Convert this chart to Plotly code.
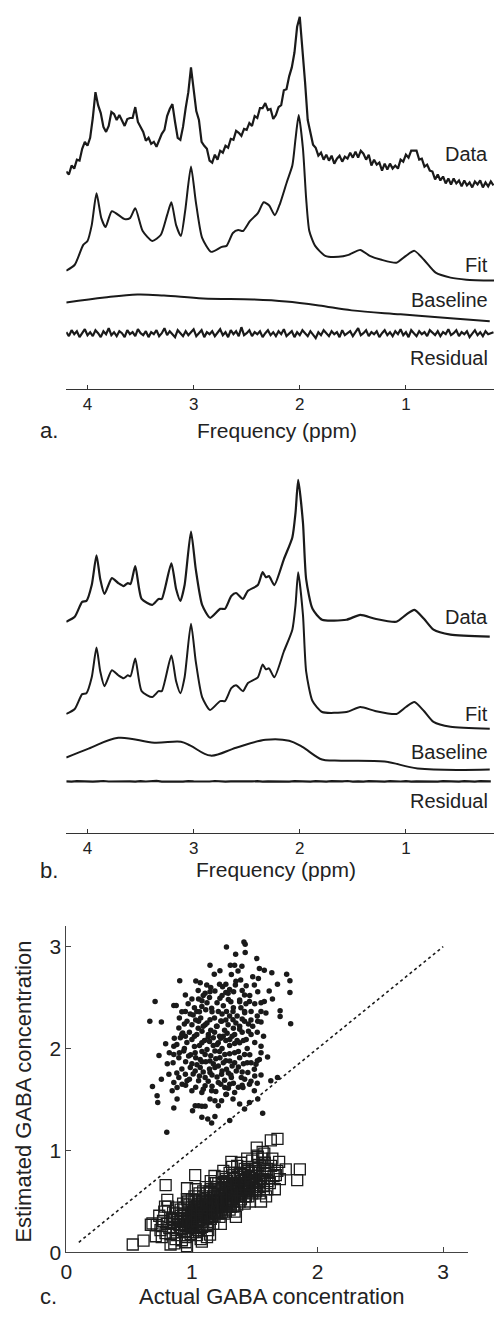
import plotly.graph_objects as go

# ---------------- Panel a ----------------
ppm_grid = [round(4.2 - 0.025 * i, 3) for i in range(162)]

data_a = [21.9,21.6,22.5,22.2,23.1,23.0,24.2,24.9,24.5,25.3,
          27.3,29.9,28.6,27.8,26.4,25.9,26.5,27.9,27.7,27.1,
          27.6,27.0,26.5,27.2,27.3,27.3,28.4,26.9,26.4,25.9,
          25.0,25.3,24.7,24.9,24.4,25.0,25.7,26.1,27.5,28.2,
          28.7,26.9,25.3,25.1,26.4,28.3,29.9,32.4,30.3,28.0,
          27.1,24.9,24.5,24.2,23.0,22.8,23.6,23.1,24.0,23.8,
          24.5,24.3,25.2,25.1,26.0,25.8,25.5,26.2,26.1,26.8,
          26.5,27.5,27.3,28.3,28.3,28.8,28.1,28.2,27.2,27.6,
          28.4,28.6,30.1,30.2,31.5,32.4,33.9,36.5,37.5,34.4,
          30.9,27.1,25.7,24.6,24.3,23.5,23.8,23.1,23.6,23.0,
          23.5,22.7,23.2,23.5,22.9,23.4,23.2,23.8,23.3,23.9,
          23.3,24.0,23.7,23.1,23.6,22.5,23.1,22.6,22.8,22.0,
          22.7,22.1,22.7,22.2,22.5,22.2,23.1,22.9,23.6,23.3,
          24.0,24.0,24.0,23.1,23.2,22.4,22.6,22.0,21.9,21.1,
          21.6,21.0,21.4,20.7,21.2,20.6,21.2,20.7,21.0,20.4,
          21.0,20.5,20.8,20.3,20.9,20.6,21.0,20.3,20.8,20.4,
          20.9,20.5]

ppm_fit_a = [4.2,4.12,4.04,4.0,3.96,3.915,3.87,3.83,3.77,3.65,3.60,3.55,3.48,3.39,3.31,
             3.25,3.21,3.165,3.12,3.08,3.025,2.98,2.92,2.835,2.735,2.69,2.63,2.58,2.535,
             2.47,2.395,2.34,2.29,2.235,2.185,2.12,2.07,2.04,2.01,1.97,1.94,1.91,1.855,
             1.76,1.635,1.54,1.43,1.34,1.23,1.09,1.0,0.92,0.83,0.72,0.58,0.43,0.17]
fit_a = [11.9,12.5,14.5,14.9,16.5,19.7,17.2,16.3,17.9,17.1,17.2,18.2,15.9,14.9,15.5,
         17.5,18.8,16.5,15.4,17.9,22.4,18.9,15.2,13.8,14.3,14.4,15.7,16.0,15.9,
         16.9,17.7,18.8,18.5,17.5,18.7,20.9,22.5,25.2,27.6,24.2,19.2,15.9,14.4,
         13.4,13.3,13.5,14.0,13.4,13.0,12.7,13.4,13.9,13.0,11.7,11.2,11.0,10.9]

ppm_base_a = [4.2,3.84,3.53,3.28,2.91,2.44,2.13,1.82,1.51,1.05,0.58,0.21]
base_a = [8.7,9.2,9.5,9.4,9.1,9.0,8.8,8.4,7.9,7.5,7.1,6.8]

resid_a = [5.7,5.3,5.9,5.5,5.8,5.2,5.6,6.0,5.4,5.7,5.3,5.9,5.6,5.2,5.8,5.5,6.1,5.4,5.7,5.3,
           5.8,5.6,5.2,5.9,5.5,5.7,5.3,6.0,5.6,5.4,5.8,5.2,5.7,5.5,5.9,5.3,5.6,6.1,5.4,5.8,
           5.5,5.2,5.9,5.6,5.3,5.8,5.4,5.7,6.0,5.3,5.6,5.9,5.2,5.7,5.5,5.8,5.3,5.6,6.0,5.4,
           5.7,5.2,5.9,5.5,5.8,5.3,6.2,5.4,5.6,5.9,5.3,5.7,5.5,5.8,5.2,5.6,5.9,5.4,5.7,5.3,
           5.8,5.5,6.0,5.3,5.6,5.8,5.2,5.7,5.4,5.9,5.6,5.3,5.8,5.5,5.1,5.7,5.4,5.9,5.6,5.3,
           5.8,5.5,5.7,5.2,5.9,5.4,5.6,5.8,5.3,5.7,6.1,5.4,5.6,5.9,5.3,5.7,5.5,5.8,5.2,5.6,
           5.9,5.4,5.7,5.3,5.8,5.5,6.0,5.4,5.7,5.2,5.9,5.6,5.3,5.8,5.5,5.7,5.3,5.9,5.6,5.4,
           5.8,5.3,5.7,5.5,6.0,5.4,5.6,5.9,5.3,5.7,5.5,5.8,5.2,5.6,5.9,5.4,5.7,5.3,5.8,5.5,
           5.6,5.7]

# ---------------- Panel b ----------------
ppm_b = [4.2,4.12,4.05,4.01,3.96,3.915,3.88,3.84,3.77,3.71,3.66,3.62,3.595,3.55,3.49,
         3.39,3.33,3.30,3.21,3.165,3.125,3.085,3.025,2.98,2.92,2.845,2.75,2.705,2.645,
         2.60,2.535,2.49,2.395,2.35,2.32,2.29,2.24,2.15,2.07,2.04,2.015,1.97,1.94,1.88,
         1.79,1.56,1.43,1.29,1.09,1.0,0.92,0.83,0.74,0.58,0.21]
data_b = [21.3,21.8,23.3,23.4,25.0,28.0,25.6,24.1,25.7,25.2,24.9,25.2,25.1,26.9,23.6,
          23.0,23.6,23.6,27.2,24.6,23.4,25.0,30.4,26.6,23.0,21.7,22.6,22.6,23.9,
          24.2,23.6,24.4,25.0,26.3,25.8,25.9,25.0,27.6,29.8,32.3,35.6,31.3,25.6,22.6,
          21.5,21.5,22.0,21.6,21.3,22.0,22.5,21.6,20.5,20.0,19.8]
fit_b = [12.0,12.5,14.0,14.1,15.7,18.7,16.3,14.8,16.4,15.9,15.6,15.9,15.8,17.6,14.3,
         13.7,14.3,14.3,17.9,15.3,14.1,15.7,21.1,17.3,13.7,12.4,13.3,13.3,14.6,
         14.9,14.3,15.1,15.7,17.0,16.5,16.6,15.7,18.3,20.5,23.0,26.3,22.0,16.3,13.3,
         12.2,12.2,12.7,12.3,12.0,12.7,13.2,12.3,11.2,10.7,10.5]

ppm_base_b = [4.2,3.99,3.71,3.37,3.12,3.03,2.84,2.60,2.32,2.10,1.98,1.79,1.67,1.20,0.89,0.21]
base_b = [7.6,8.5,9.6,9.1,9.2,8.8,7.8,8.6,9.4,9.3,8.7,7.4,7.3,7.2,6.5,6.4]

ppm_coarse = [round(4.2 - 0.05 * i, 2) for i in range(81)]
resid_b = [5.21,5.18,5.23,5.19,5.22,5.17,5.20,5.24,5.19,5.21,5.18,5.22,5.20,5.17,5.23,5.19,5.21,5.25,5.18,5.20,
           5.22,5.19,5.17,5.23,5.20,5.18,5.22,5.19,5.24,5.20,5.17,5.21,5.19,5.23,5.18,5.20,5.22,5.17,5.21,5.19,
           5.24,5.20,5.18,5.22,5.19,5.21,5.17,5.23,5.20,5.18,5.22,5.19,5.21,5.24,5.18,5.20,5.17,5.22,5.19,5.21,
           5.18,5.23,5.20,5.19,5.22,5.17,5.21,5.19,5.23,5.20,5.18,5.22,5.19,5.21,5.17,5.23,5.20,5.18,5.22,5.19,
           5.21]

trace_labels = ["Data", "Fit", "Baseline", "Residual"]
label_pos_a = [23.7, 12.5, 8.9, 3.1]
label_pos_b = [21.8, 12.0, 8.2, 3.2]
freq_ticks = [4, 3, 2, 1]

# ---------------- Panel c ----------------
dots = [
    (1.275,2.996),(1.414,3.045),(1.424,3.022),(1.348,2.925),(1.424,2.941),(1.516,2.883),
    (1.144,2.818),(1.306,2.818),(1.340,2.818),(1.398,2.808),(1.178,2.730),(1.223,2.763),
    (1.314,2.727),(1.367,2.760),(1.484,2.704),(1.537,2.785),(1.576,2.769),(1.636,2.743),
    (1.754,2.730),(1.780,2.665),(1.529,2.688),(0.903,2.665),(1.031,2.662),(1.066,2.646),
    (1.118,2.623),(1.244,2.607),(1.270,2.630),(1.388,2.672),(1.346,2.623),(1.432,2.617),
    (1.497,2.623),(1.524,2.558),(1.681,2.630),(1.615,2.565),(1.780,2.549),(0.707,2.461),
    (0.856,2.422),(0.875,2.422),(0.948,2.526),(1.000,2.487),(1.053,2.487),(1.105,2.542),
    (1.144,2.558),(1.183,2.565),(1.223,2.494),(1.288,2.542),(1.332,2.558),(1.380,2.477),
    (1.419,2.526),(1.458,2.461),(1.576,2.461),(1.641,2.487),(1.702,2.371),(1.702,2.315),
    (1.786,2.244),(0.665,2.267),(0.757,2.260),(0.948,2.364),(0.987,2.338),(1.039,2.364),
    (1.079,2.412),(1.157,2.396),(1.210,2.364),(1.275,2.364),(1.327,2.364),(1.419,2.364),
    (1.471,2.364),(1.550,2.364),(1.589,2.348),(0.896,2.202),(0.927,2.153),(0.961,2.267),
    (1.000,2.234),(1.053,2.267),(1.105,2.234),(1.144,2.283),(1.196,2.218),(1.236,2.267),
    (1.288,2.234),(1.327,2.283),(1.380,2.218),(1.419,2.267),(1.484,2.218),(1.524,2.267),
    (0.791,2.046),(0.856,2.023),(0.908,2.105),(0.948,2.121),(1.000,2.088),(1.039,2.137),
    (1.079,2.056),(1.131,2.137),(1.170,2.105),(1.210,2.056),(1.249,2.121),(1.301,2.088),
    (1.340,2.137),(1.380,2.056),(1.432,2.088),(1.471,2.137),(1.550,2.023),(0.738,1.933),
    (0.804,1.851),(0.856,1.942),(0.896,1.910),(0.935,1.975),(0.974,1.926),(1.026,1.958),
    (1.066,1.893),(1.105,1.942),(1.144,1.877),(1.183,1.975),(1.223,1.910),(1.262,1.942),
    (1.301,1.877),(1.340,1.958),(1.380,1.910),(1.419,1.942),(1.471,1.861),(1.510,1.845),
    (1.537,1.893),(1.602,1.916),(0.686,1.628),(0.757,1.699),(0.817,1.748),(0.856,1.667),
    (0.896,1.715),(0.948,1.748),(0.987,1.813),(1.026,1.780),(1.066,1.813),(1.105,1.715),
    (1.144,1.764),(1.183,1.813),(1.236,1.748),(1.275,1.797),(1.314,1.715),(1.353,1.780),
    (1.393,1.715),(1.445,1.764),(1.497,1.797),(1.550,1.741),(1.628,1.683),(1.681,1.715),
    (0.843,1.586),(0.882,1.618),(0.922,1.650),(0.961,1.683),(1.000,1.586),(1.053,1.683),
    (1.105,1.634),(1.157,1.586),(1.210,1.667),(1.262,1.618),(1.301,1.650),(1.340,1.569),
    (1.406,1.618),(1.458,1.650),(1.497,1.586),(1.079,1.569),(1.380,1.456),(1.524,1.505),
    (0.723,1.537),(0.728,1.472),(0.856,1.417),(0.882,1.505),(1.005,1.391),(1.026,1.440),
    (1.053,1.440),(1.079,1.433),(1.105,1.433),(1.144,1.505),(1.183,1.488),(1.210,1.440),
    (1.236,1.488),(1.275,1.553),(1.327,1.505),(1.079,1.326),(1.126,1.310),(1.157,1.271),
    (1.183,1.333),(1.301,1.294),(1.419,1.407),(1.458,1.472),(1.563,1.365),(0.800,1.180),
    (1.02,2.40),(1.12,2.45),(1.18,2.30),(1.25,2.42),(1.31,2.46),(1.36,2.32),(1.43,2.44),
    (1.07,2.30),(1.15,2.18),(1.22,2.12),(1.28,2.15),(1.33,2.20),(1.40,2.16),(1.47,2.28),
    (0.98,2.16),(1.05,2.20),(1.10,2.08),(1.17,2.03),(1.24,2.00),(1.30,2.03),(1.36,2.08),
    (1.44,2.00),(1.02,2.02),(0.94,2.00),(1.12,1.99),(1.19,1.90),(1.27,1.88),(1.34,1.86),
    (1.41,1.85),(1.08,1.87),(1.00,1.85),(0.92,1.80),(1.14,1.80),(1.21,1.83),(1.29,1.76),
    (1.37,1.82),(1.06,1.73),(1.13,1.68),(1.20,1.72),(1.26,1.69),(1.33,1.66),(1.42,1.70),
    (0.98,1.70),(1.09,1.60),(1.19,1.58),(1.27,1.55),(1.37,1.62),(1.47,1.68),(1.23,2.27),
    (1.16,2.36),(1.39,2.40),(1.09,2.52),(1.27,2.55),(1.22,2.63),(1.46,2.52),(1.52,2.16),
    (1.55,2.45),(0.90,2.30),(0.86,2.10),(0.82,1.96),
    (1.05,2.57),(1.15,2.60),(1.30,2.58),(1.40,2.57),(1.35,2.66),
    (0.97,2.44),(1.08,2.47),(1.20,2.45),(1.29,2.48),(1.38,2.46),(1.50,2.44),(1.14,2.50),(1.24,2.52),
    (0.92,2.36),(1.01,2.33),(1.11,2.38),(1.24,2.34),(1.33,2.40),(1.42,2.35),(1.52,2.32),(1.06,2.36),(1.30,2.32),
    (0.94,2.24),(1.03,2.28),(1.12,2.25),(1.20,2.22),(1.27,2.28),(1.35,2.25),(1.45,2.24),(1.55,2.26),(1.09,2.22),(1.40,2.29),
    (0.92,2.14),(1.02,2.12),(1.08,2.17),(1.18,2.16),(1.26,2.18),(1.32,2.12),(1.45,2.17),(1.57,2.12),(1.13,2.11),(1.38,2.19),
    (0.88,2.04),(0.96,2.06),(1.06,2.03),(1.14,2.07),(1.20,2.04),(1.27,2.08),(1.34,2.05),(1.41,2.08),(1.50,2.06),(1.23,2.10),
    (0.90,1.96),(0.99,1.94),(1.08,1.97),(1.15,1.93),(1.22,1.97),(1.30,1.95),(1.37,1.97),(1.46,1.94),(1.55,1.96),(1.03,1.91),
    (0.85,1.86),(0.95,1.87),(1.04,1.84),(1.11,1.87),(1.17,1.85),(1.25,1.86),(1.32,1.83),(1.44,1.86),(1.52,1.88),
    (0.88,1.76),(1.01,1.75),(1.09,1.77),(1.16,1.74),(1.24,1.78),(1.31,1.74),(1.40,1.77),(1.50,1.73),
    (0.95,1.64),(1.03,1.62),(1.16,1.63),(1.23,1.65),(1.29,1.61),(1.40,1.64),(1.52,1.66),
]
squares = [
    (0.529,0.078),(0.615,0.117),(0.712,0.159),(0.830,0.078),(0.961,0.061),(1.079,0.107),
    (1.144,0.175),(0.791,0.661),(0.673,0.272),(0.686,0.285),(0.786,0.450),(0.804,0.515),
    (0.961,0.630),(1.026,0.759),(1.314,0.888),(1.524,0.937),(1.563,0.986),(1.628,1.099),
    (1.681,1.115),(1.747,0.814),(1.859,0.814),(1.838,0.710),(1.694,0.888),(1.668,0.759),
    (1.516,1.028),(1.576,0.970),
    (0.72,0.27),(0.75,0.22),(0.77,0.31),(0.79,0.19),(0.74,0.36),(0.78,0.40),(0.80,0.28),(0.76,0.15),
    (0.82,0.24),(0.84,0.33),(0.83,0.18),(0.86,0.28),(0.85,0.39),(0.88,0.22),(0.87,0.13),(0.89,0.34),
    (0.81,0.45),(0.88,0.44),(0.86,0.09),(0.90,0.27),
    (0.91,0.31),(0.92,0.20),(0.93,0.38),(0.94,0.27),(0.95,0.15),(0.96,0.33),(0.97,0.42),(0.98,0.24),
    (0.99,0.36),(0.93,0.48),(0.96,0.52),(0.95,0.10),(0.99,0.18),(1.00,0.30),(0.92,0.12),(0.98,0.47),
    (1.01,0.40),(1.02,0.27),(1.03,0.35),(1.04,0.46),(1.05,0.22),(1.06,0.38),(1.07,0.30),(1.08,0.50),
    (1.09,0.42),(1.02,0.55),(1.04,0.17),(1.06,0.58),(1.08,0.25),(1.10,0.35),(1.03,0.62),(1.07,0.13),
    (1.09,0.60),(1.01,0.20),(1.05,0.48),(1.10,0.46),
    (1.11,0.40),(1.12,0.52),(1.13,0.30),(1.14,0.45),(1.15,0.58),(1.16,0.36),(1.17,0.49),(1.18,0.62),
    (1.19,0.41),(1.20,0.54),(1.11,0.64),(1.13,0.22),(1.15,0.70),(1.17,0.28),(1.19,0.68),(1.12,0.34),
    (1.14,0.60),(1.16,0.47),(1.18,0.35),(1.20,0.44),(1.12,0.15),(1.18,0.75),
    (1.21,0.50),(1.22,0.60),(1.23,0.42),(1.24,0.55),(1.25,0.66),(1.26,0.48),(1.27,0.58),(1.28,0.70),
    (1.29,0.52),(1.30,0.62),(1.22,0.35),(1.24,0.74),(1.26,0.38),(1.28,0.45),(1.30,0.78),(1.21,0.68),
    (1.23,0.28),(1.25,0.80),(1.27,0.40),(1.29,0.63),(1.24,0.47),(1.26,0.57),
    (1.31,0.55),(1.32,0.66),(1.33,0.50),(1.34,0.72),(1.35,0.60),(1.36,0.47),(1.37,0.68),(1.38,0.78),
    (1.39,0.58),(1.40,0.70),(1.32,0.84),(1.34,0.40),(1.36,0.85),(1.38,0.50),(1.40,0.62),(1.31,0.45),
    (1.33,0.76),(1.35,0.35),(1.37,0.57),(1.39,0.88),
    (1.41,0.65),(1.42,0.76),(1.43,0.55),(1.44,0.84),(1.45,0.68),(1.46,0.60),(1.47,0.78),(1.48,0.90),
    (1.49,0.70),(1.50,0.62),(1.42,0.48),(1.44,0.92),(1.46,0.50),(1.48,0.58),(1.50,0.82),(1.43,0.72),
    (1.51,0.75),(1.52,0.66),(1.53,0.86),(1.54,0.58),(1.55,0.72),(1.56,0.92),(1.57,0.65),(1.58,0.80),
    (1.59,0.55),(1.60,0.70),(1.52,0.95),(1.55,0.50),(1.58,0.88),
    (1.61,0.78),(1.62,0.68),(1.63,0.85),(1.65,0.75),(1.66,0.62),(1.64,0.92),(1.68,0.80),(1.70,0.72),
    (0.85,0.25),(0.85,0.32),(0.88,0.30),(0.88,0.38),(0.88,0.17),(0.91,0.24),(0.91,0.36),(0.91,0.42),
    (0.94,0.33),(0.94,0.21),(0.94,0.44),(0.97,0.30),(0.97,0.37),(0.97,0.20),(0.97,0.50),
    (1.00,0.38),(1.00,0.25),(1.00,0.45),(1.00,0.52),(1.03,0.28),(1.03,0.42),(1.03,0.50),(1.03,0.20),
    (1.06,0.45),(1.06,0.32),(1.06,0.26),(1.06,0.52),(1.09,0.36),(1.09,0.50),(1.09,0.30),(1.09,0.55),
    (1.12,0.44),(1.12,0.58),(1.12,0.38),(1.12,0.27),(1.15,0.50),(1.15,0.40),(1.15,0.33),(1.15,0.62),
    (1.18,0.55),(1.18,0.45),(1.18,0.40),(1.18,0.68),(1.21,0.45),(1.21,0.58),(1.21,0.38),(1.21,0.62),
    (1.24,0.50),(1.24,0.62),(1.24,0.40),(1.24,0.67),(1.27,0.52),(1.27,0.64),(1.27,0.46),(1.27,0.72),
    (1.30,0.55),(1.30,0.48),(1.30,0.68),(1.30,0.42),(1.33,0.60),(1.33,0.68),(1.33,0.45),(1.33,0.55),
    (1.36,0.62),(1.36,0.55),(1.36,0.74),(1.36,0.66),(1.39,0.65),(1.39,0.72),(1.39,0.52),(1.39,0.78),
    (1.42,0.60),(1.42,0.70),(1.42,0.82),(1.42,0.55),(1.45,0.62),(1.45,0.74),(1.45,0.80),(1.45,0.55),
    (1.48,0.66),(1.48,0.75),(1.48,0.82),(1.48,0.62),(1.51,0.68),(1.51,0.60),(1.51,0.80),
    (1.54,0.70),(1.54,0.78),(1.54,0.64),(1.57,0.72),(1.57,0.85),(1.60,0.82),(1.60,0.62),
    (0.98,0.34),(1.01,0.32),(1.04,0.39),(1.07,0.43),(1.10,0.39),(1.13,0.47),(1.16,0.42),(1.19,0.51),
    (1.22,0.47),(1.25,0.56),(1.28,0.53),(1.31,0.61),(1.34,0.57),(1.37,0.64),(1.40,0.60),(1.43,0.66),
    (1.46,0.70),(1.49,0.66),(1.02,0.44),(1.05,0.36),(1.08,0.40),(1.11,0.49),(1.14,0.38),(1.17,0.55),
    (1.20,0.40),(1.23,0.52),(1.26,0.62),(1.29,0.47),(1.32,0.58),(1.35,0.67),(1.38,0.56),(1.41,0.72),
    (1.44,0.63),(1.47,0.73),(0.95,0.28),(0.99,0.27),(1.04,0.31),(1.08,0.33),(1.13,0.36),(1.17,0.43),
    (1.22,0.53),(1.27,0.49),(1.32,0.52),(1.37,0.61),(1.42,0.67),(1.46,0.64),
]
identity_line = [0.1, 3.0]
gaba_ticks = [0, 1, 2, 3]

FONT = "Liberation Sans, Arial, Helvetica, sans-serif"
INK = "#1a1a1a"

fig = go.Figure()

def line(x, y, xa, ya, width=2.0, shape="spline", smooth=0.6):
    kw = dict(shape=shape, color=INK, width=width)
    if shape == "spline":
        kw["smoothing"] = smooth
    fig.add_trace(go.Scatter(x=x, y=y, mode="lines", line=kw, xaxis=xa, yaxis=ya,
                             showlegend=False, hoverinfo="skip"))

# panel a
line(ppm_grid, data_a, "x", "y", width=2.2, shape="linear")
line(ppm_fit_a, fit_a, "x", "y", width=2.0)
line(ppm_base_a, base_a, "x", "y", width=2.0, smooth=1.0)
line(ppm_grid, resid_a, "x", "y", width=2.2, shape="linear")
# panel b
line(ppm_b, data_b, "x2", "y2", width=2.2)
line(ppm_b, fit_b, "x2", "y2", width=2.0)
line(ppm_base_b, base_b, "x2", "y2", width=2.0, smooth=1.0)
line(ppm_coarse, resid_b, "x2", "y2", width=2.2, shape="linear")

# panel c
fig.add_trace(go.Scatter(x=[s[0] for s in squares], y=[s[1] for s in squares], mode="markers",
                         marker=dict(symbol="square-open", size=11, color="#1c1c1c",
                                     line=dict(width=1.3, color="#1c1c1c")),
                         xaxis="x3", yaxis="y3", showlegend=False, hoverinfo="skip", cliponaxis=False))
fig.add_trace(go.Scatter(x=[d[0] for d in dots], y=[d[1] for d in dots], mode="markers",
                         marker=dict(symbol="circle", size=5.5, color=INK),
                         xaxis="x3", yaxis="y3", showlegend=False, hoverinfo="skip"))
fig.add_trace(go.Scatter(x=identity_line, y=identity_line, mode="lines",
                         line=dict(color=INK, width=1.6, dash="3px,3px"),
                         xaxis="x3", yaxis="y3", showlegend=False, hoverinfo="skip"))

freq_axis = dict(range=[4.2, 0.17], tickvals=freq_ticks, ticktext=[str(t) for t in freq_ticks],
                 ticks="inside", ticklen=4, tickcolor="#333", showline=True, linecolor="#333",
                 linewidth=1, showgrid=False, zeroline=False,
                 tickfont=dict(family=FONT, size=17, color="#222"), domain=[0.1235, 1.0])
fig.update_layout(
    width=494, height=1318, margin=dict(l=0, r=0, t=0, b=0),
    paper_bgcolor="white", plot_bgcolor="white",
    xaxis=dict(freq_axis, anchor="y"),
    yaxis=dict(domain=[0.7026, 1.0], range=[0, 39.2], visible=False, anchor="x"),
    xaxis2=dict(freq_axis, anchor="y2"),
    yaxis2=dict(domain=[0.3627, 0.6601], range=[0, 39.2], visible=False, anchor="x2"),
    xaxis3=dict(domain=[0.1235, 0.9474], range=[0, 3.2], tickvals=gaba_ticks, anchor="y3",
                ticks="inside", ticklen=5, tickcolor="#444", showline=True, linecolor="#444",
                linewidth=1, showgrid=False, zeroline=False,
                tickfont=dict(family=FONT, size=21, color="#222")),
    yaxis3=dict(domain=[0.04173, 0.29135], range=[0, 3.2], tickvals=gaba_ticks, anchor="x3",
                ticks="inside", ticklen=5, tickcolor="#444", showline=True, linecolor="#444",
                linewidth=1, showgrid=False, zeroline=False,
                tickfont=dict(family=FONT, size=21, color="#222")),
)

ann = []
for lab, ya in zip(trace_labels, label_pos_a):
    ann.append(dict(text=lab, x=0.992, xref="paper", xanchor="right", y=ya, yref="y",
                    yanchor="middle", showarrow=False, font=dict(family=FONT, size=20, color="#222")))
for lab, yb in zip(trace_labels, label_pos_b):
    ann.append(dict(text=lab, x=0.992, xref="paper", xanchor="right", y=yb, yref="y2",
                    yanchor="middle", showarrow=False, font=dict(family=FONT, size=20, color="#222")))
ann += [
    dict(text="a.", x=32/494, y=1-434/1318, xref="paper", yref="paper", xanchor="left",
         yanchor="middle", showarrow=False, font=dict(family=FONT, size=22, color="#222")),
    dict(text="Frequency (ppm)", x=274/494, y=1-434/1318, xref="paper", yref="paper",
         xanchor="center", yanchor="middle", showarrow=False, font=dict(family=FONT, size=21, color="#222")),
    dict(text="b.", x=32/494, y=1-878/1318, xref="paper", yref="paper", xanchor="left",
         yanchor="middle", showarrow=False, font=dict(family=FONT, size=22, color="#222")),
    dict(text="Frequency (ppm)", x=273/494, y=1-877/1318, xref="paper", yref="paper",
         xanchor="center", yanchor="middle", showarrow=False, font=dict(family=FONT, size=21, color="#222")),
    dict(text="c.", x=32/494, y=1-1307/1318, xref="paper", yref="paper", xanchor="left",
         yanchor="middle", showarrow=False, font=dict(family=FONT, size=22, color="#222")),
    dict(text="Actual GABA concentration", x=269/494, y=1-1307/1318, xref="paper", yref="paper",
         xanchor="center", yanchor="middle", showarrow=False, font=dict(family=FONT, size=22, color="#222")),
    dict(text="Estimated GABA concentration", x=18/494, y=1-1101/1318, xref="paper", yref="paper",
         xanchor="center", yanchor="middle", textangle=-90, showarrow=False,
         font=dict(family=FONT, size=22, color="#222")),
]
fig.update_layout(annotations=ann)

fig.write_html("out.html")
